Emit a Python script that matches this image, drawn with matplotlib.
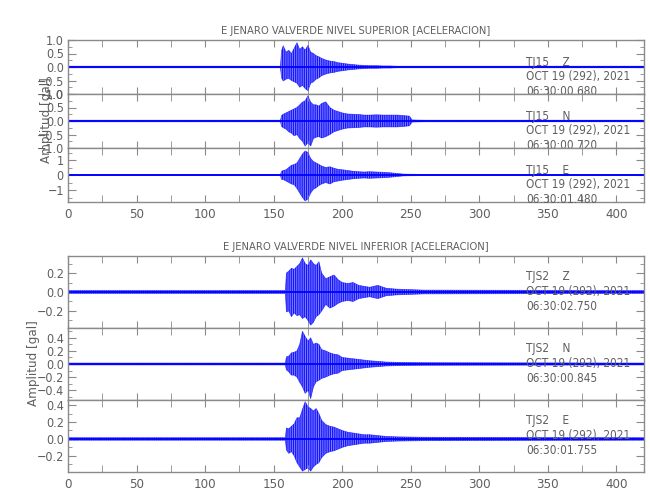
import numpy as np
import matplotlib
matplotlib.use("Agg")
import matplotlib.pyplot as plt
from matplotlib.ticker import MultipleLocator, AutoMinorLocator

plt.rcParams['font.family'] = ['DejaVu Sans']
plt.rcParams['font.stretch'] = 'condensed'
plt.rcParams['hatch.linewidth'] = 0.6
plt.rcParams['hatch.color'] = 'blue'

GREY = '#5f5f5f'
SPINE = '#8a8a8a'

# envelope of each trace (seconds, gal)
t_sup = [0, 155, 155.7, 157, 159, 161, 163, 165, 167, 169,
         171, 173, 175, 177, 179, 181, 183, 185, 188, 191,
         194, 197, 200, 204, 208, 212, 216, 220, 225, 230,
         235, 240, 245, 249, 251, 260, 420]

sup_z_hi = [0.03, 0.03, 0.6, 0.79, 0.55, 0.62, 0.5, 0.7, 0.9, 0.65,
            0.75, 0.62, 0.8, 0.55, 0.5, 0.42, 0.38, 0.32, 0.26, 0.22,
            0.2, 0.16, 0.14, 0.11, 0.09, 0.07, 0.06, 0.05, 0.05, 0.04,
            0.04, 0.03, 0.03, 0.03, 0.03, 0.03, 0.03]
sup_z_lo = [-0.03, -0.03, -0.4, -0.52, -0.45, -0.42, -0.5, -0.55, -0.6, -0.75,
            -0.68, -0.8, -0.88, -0.6, -0.55, -0.45, -0.4, -0.32, -0.26, -0.22,
            -0.2, -0.16, -0.14, -0.11, -0.09, -0.07, -0.06, -0.05, -0.05, -0.04,
            -0.04, -0.03, -0.03, -0.03, -0.03, -0.03, -0.03]

sup_n_hi = [0.03, 0.03, 0.2, 0.25, 0.3, 0.35, 0.4, 0.45, 0.5, 0.6,
            0.7, 0.75, 0.93, 0.7, 0.6, 0.6, 0.55, 0.65, 0.71, 0.5,
            0.4, 0.35, 0.3, 0.26, 0.25, 0.24, 0.22, 0.22, 0.23, 0.22,
            0.22, 0.22, 0.2, 0.18, 0.04, 0.03, 0.03]
sup_n_lo = [-0.03, -0.03, -0.2, -0.25, -0.3, -0.4, -0.45, -0.55, -0.5, -0.65,
            -0.75, -0.93, -0.8, -0.93, -0.65, -0.6, -0.58, -0.63, -0.58, -0.5,
            -0.4, -0.35, -0.3, -0.26, -0.25, -0.24, -0.22, -0.22, -0.23, -0.22,
            -0.22, -0.22, -0.2, -0.18, -0.04, -0.03, -0.03]

sup_e_hi = [0.04, 0.04, 0.25, 0.3, 0.35, 0.5, 0.65, 0.7, 0.8, 1.1,
            1.4, 1.6, 1.5, 1.1, 0.9, 0.8, 0.7, 0.6, 0.5, 0.55,
            0.45, 0.38, 0.35, 0.3, 0.25, 0.22, 0.2, 0.22, 0.2, 0.18,
            0.15, 0.1, 0.06, 0.05, 0.05, 0.04, 0.04]
sup_e_lo = [-0.04, -0.04, -0.3, -0.3, -0.4, -0.5, -0.6, -0.65, -0.9, -1.2,
            -1.5, -1.73, -1.6, -1.2, -0.95, -0.85, -0.7, -0.6, -0.5, -0.6,
            -0.45, -0.4, -0.35, -0.3, -0.25, -0.22, -0.2, -0.22, -0.2, -0.18,
            -0.15, -0.1, -0.06, -0.05, -0.05, -0.04, -0.04]

t_inf = [0, 158.5, 159.3, 161, 163, 165, 167, 169, 171, 173,
         175, 177, 179, 181, 183, 185, 188, 191, 194, 197,
         200, 204, 208, 212, 216, 220, 226, 232, 240, 260,
         420]

inf_z_hi = [0.015, 0.015, 0.2, 0.22, 0.25, 0.24, 0.27, 0.3, 0.36, 0.3,
            0.28, 0.34, 0.3, 0.28, 0.32, 0.2, 0.14, 0.16, 0.18, 0.13,
            0.1, 0.09, 0.1, 0.07, 0.06, 0.05, 0.07, 0.04, 0.03, 0.02,
            0.015]
inf_z_lo = [-0.015, -0.015, -0.21, -0.2, -0.26, -0.22, -0.25, -0.24, -0.28, -0.26,
            -0.3, -0.35, -0.32, -0.26, -0.24, -0.2, -0.13, -0.17, -0.15, -0.12,
            -0.1, -0.09, -0.1, -0.07, -0.06, -0.05, -0.07, -0.04, -0.03, -0.02,
            -0.015]

inf_n_hi = [0.015, 0.015, 0.11, 0.12, 0.17, 0.18, 0.2, 0.3, 0.5, 0.42,
            0.35, 0.4, 0.3, 0.32, 0.3, 0.22, 0.2, 0.17, 0.15, 0.14,
            0.1, 0.09, 0.08, 0.07, 0.06, 0.05, 0.04, 0.03, 0.025, 0.02,
            0.015]
inf_n_lo = [-0.015, -0.015, -0.09, -0.12, -0.17, -0.17, -0.2, -0.28, -0.35, -0.45,
            -0.4, -0.53, -0.35, -0.27, -0.25, -0.22, -0.2, -0.17, -0.15, -0.14,
            -0.1, -0.09, -0.08, -0.07, -0.06, -0.05, -0.04, -0.03, -0.025, -0.02,
            -0.015]

inf_e_hi = [0.015, 0.015, 0.13, 0.12, 0.15, 0.18, 0.25, 0.25, 0.35, 0.44,
            0.38, 0.36, 0.33, 0.36, 0.3, 0.22, 0.17, 0.15, 0.14, 0.12,
            0.1, 0.08, 0.07, 0.06, 0.05, 0.05, 0.04, 0.03, 0.025, 0.02,
            0.015]
inf_e_lo = [-0.015, -0.015, -0.13, -0.17, -0.15, -0.2, -0.28, -0.33, -0.38, -0.36,
            -0.34, -0.38, -0.33, -0.3, -0.28, -0.22, -0.17, -0.15, -0.14, -0.12,
            -0.1, -0.08, -0.07, -0.06, -0.05, -0.05, -0.04, -0.03, -0.025, -0.02,
            -0.015]

titles = ['E JENARO VALVERDE NIVEL SUPERIOR [ACELERACION]',
          'E JENARO VALVERDE NIVEL INFERIOR [ACELERACION]']
sup_labels = [['TJ15    Z', 'OCT 19 (292), 2021', '06:30:00.680'],
              ['TJ15    N', 'OCT 19 (292), 2021', '06:30:00.720'],
              ['TJ15    E', 'OCT 19 (292), 2021', '06:30:01.480']]
inf_labels = [['TJS2    Z', 'OCT 19 (292), 2021', '06:30:02.750'],
              ['TJS2    N', 'OCT 19 (292), 2021', '06:30:00.845'],
              ['TJS2    E', 'OCT 19 (292), 2021', '06:30:01.755']]

fig = plt.figure(figsize=(6.5, 5), dpi=100)
L, W = 0.1046, 0.886


def style_axes(ax, ylim, major, minor_n, show_x):
    ax.set_xlim(0, 420)
    ax.set_ylim(*ylim)
    ax.xaxis.set_major_locator(MultipleLocator(50))
    ax.xaxis.set_minor_locator(MultipleLocator(25))
    ax.yaxis.set_major_locator(MultipleLocator(major))
    ax.yaxis.set_minor_locator(AutoMinorLocator(minor_n))
    ax.tick_params(which='both', direction='in', top=True, right=True,
                   color=SPINE, labelcolor=GREY, labelsize=9, pad=3)
    ax.tick_params(axis='x', which='both', length=5)
    ax.tick_params(axis='y', which='major', length=6)
    ax.tick_params(axis='y', which='minor', length=3)
    ax.tick_params(axis='x', pad=4, labelsize=9.5)
    for s in ax.spines.values():
        s.set_color(SPINE)
        s.set_linewidth(1)
    if not show_x:
        ax.tick_params(axis='x', labelbottom=False)


def draw_trace(ax, t, hi, lo):
    ax.fill_between(t, lo, hi, facecolor=(0.5, 0.5, 1.0), edgecolor='blue',
                    hatch='|' * 9, lw=0)
    ax.plot(t, hi, color='blue', lw=0.5, alpha=0.6)
    ax.plot(t, lo, color='blue', lw=0.5, alpha=0.6)
    ax.plot(t, np.zeros(len(t)), color='blue', lw=1.3)


def add_labels(ax, lines, ys):
    for txt, y in zip(lines, ys):
        ax.text(334, y, txt, transform=ax.get_xaxis_transform(),
                ha='left', va='center', color=GREY, fontsize=8.5)


# upper level
sup = [(sup_z_hi, sup_z_lo, (-1.0, 1.0), 0.5, 2),
       (sup_n_hi, sup_n_lo, (-1.0, 1.0), 0.5, 2),
       (sup_e_hi, sup_e_lo, (-1.8, 1.8), 1.0, 2)]
sup_bottoms = [0.812, 0.704, 0.596]
for i, (hi, lo, ylim, major, mn) in enumerate(sup):
    ax = fig.add_axes([L, sup_bottoms[i], W, 0.108])
    draw_trace(ax, t_sup, hi, lo)
    style_axes(ax, ylim, major, mn, i == 2)
    add_labels(ax, sup_labels[i], [0.59, 0.315, 0.05])
    if i == 0:
        ax.set_title(titles[0], color=GREY, fontsize=8, pad=4)

# lower level
inf = [(inf_z_hi, inf_z_lo, (-0.38, 0.38), 0.2, 2),
       (inf_n_hi, inf_n_lo, (-0.55, 0.55), 0.2, 2),
       (inf_e_hi, inf_e_lo, (-0.39, 0.46), 0.2, 2)]
inf_bottoms = [0.344, 0.200, 0.056]
for i, (hi, lo, ylim, major, mn) in enumerate(inf):
    ax = fig.add_axes([L, inf_bottoms[i], W, 0.144])
    draw_trace(ax, t_inf, hi, lo)
    style_axes(ax, ylim, major, mn, i == 2)
    add_labels(ax, inf_labels[i], [0.71, 0.50, 0.30])
    if i == 0:
        ax.set_title(titles[1], color=GREY, fontsize=8, pad=4)

fig.text(0.072, 0.76, 'Amplitud [gal]', rotation=90, ha='center', va='center',
         color=GREY, fontsize=9.5)
fig.text(0.051, 0.274, 'Amplitud [gal]', rotation=90, ha='center', va='center',
         color=GREY, fontsize=9.5)

fig.savefig('out.png', dpi=100, facecolor='white')
